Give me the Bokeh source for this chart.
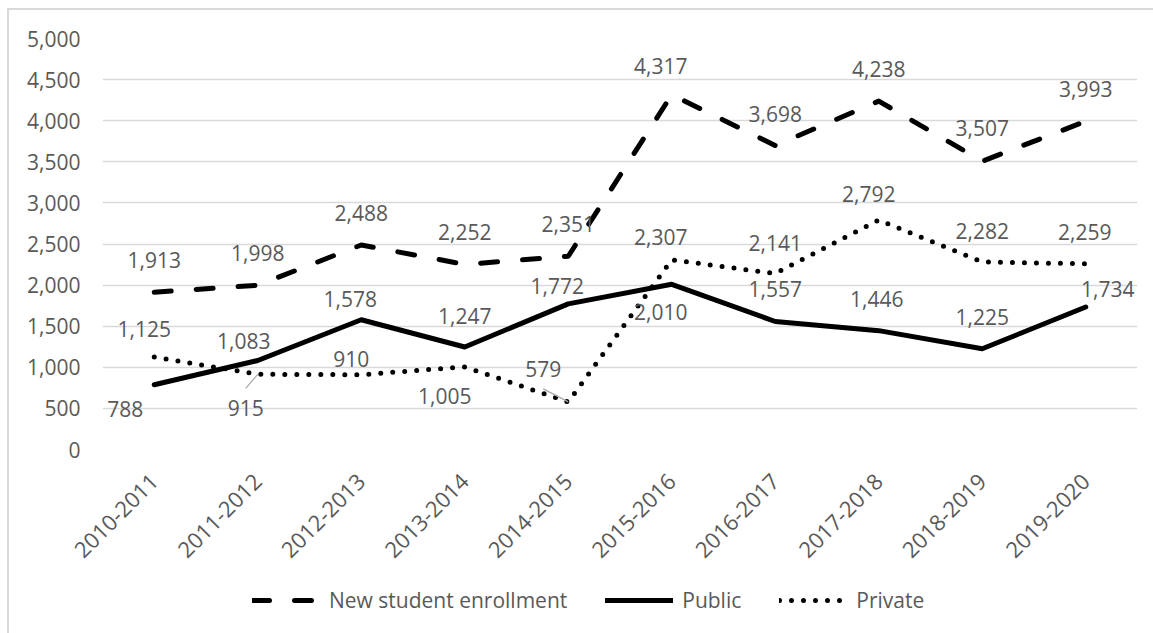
import math
from bokeh.plotting import figure
from bokeh.layouts import column
from bokeh.models import (Range1d, FixedTicker, NumeralTickFormatter, Legend, LegendItem,
                          ColumnDataSource)
from bokeh.core.properties import value
from bokeh.embed import file_html
from bokeh.resources import INLINE

# ---------------- data ----------------
years = ["2010-2011", "2011-2012", "2012-2013", "2013-2014", "2014-2015",
         "2015-2016", "2016-2017", "2017-2018", "2018-2019", "2019-2020"]
new_enrollment = [1913, 1998, 2488, 2252, 2351, 4317, 3698, 4238, 3507, 3993]
public = [788, 1083, 1578, 1247, 1772, 2010, 1557, 1446, 1225, 1734]
private = [1125, 915, 910, 1005, 579, 2307, 2141, 2792, 2282, 2259]
y_ticks = [0, 500, 1000, 1500, 2000, 2500, 3000, 3500, 4000, 4500, 5000]
series_names = ["New student enrollment", "Public", "Private"]

# label placement (screen px offsets from the point, +y is down)
new_dx = [0, 0, 0, 0, 0, -11, 0, 0, 0, 0]
new_dy = [-32, -32, -32, -32, -32, -29, -32, -32, -33, -32]
pub_dx = [-29, -14, -11, 0, -11, -11, 0, -2, 0, 22]
pub_dy = [24, -19, -21, -31, -18, 28, -33, -32, -32, -18]
pri_dx = [-10, -12, -10, -20, -25, -11, 0, -10, 0, -1]
pri_dy = [-28, 34, -16, 29, -33, -23, -31, -26, -31, -32]
pri_leaders = [1, 4]

FONT = "Open Sans"
TXT = "#595959"
GRID = "#d9d9d9"

W = 1144
H1, H2 = 570, 53
FRAME_W, FRAME_H = 1035, 411
LEFT, TOP = 93, 28

STYLES = [dict(line_dash="17 25"), dict(line_dash="solid"), dict(line_dash="0 12")]

p = figure(width=W, height=H1, output_backend="svg", toolbar_location=None,
           x_range=Range1d(-0.5, len(years) - 0.5), y_range=Range1d(0, 5000),
           min_border_left=LEFT, min_border_top=TOP,
           min_border_right=W - LEFT - FRAME_W, min_border_bottom=H1 - TOP - FRAME_H)
p.outline_line_color = None
p.background_fill_color = "white"
p.border_fill_color = "white"

xs = list(range(len(years)))

# axes
p.xaxis.ticker = FixedTicker(ticks=xs)
p.xaxis.major_label_overrides = {i: y for i, y in enumerate(years)}
p.xaxis.major_label_orientation = math.pi / 4
p.yaxis.ticker = FixedTicker(ticks=y_ticks)
p.yaxis.formatter = NumeralTickFormatter(format="0,0")
for ax in (p.xaxis, p.yaxis):
    ax.axis_line_color = None
    ax.major_tick_line_color = None
    ax.minor_tick_line_color = None
    ax.major_tick_in = 0
    ax.major_tick_out = 0
    ax.major_label_text_font = FONT
    ax.major_label_text_font_size = "21px"
    ax.major_label_text_color = TXT
p.xaxis.major_label_text_font_size = "22px"
p.yaxis.major_label_standoff = 22
p.xaxis.major_label_standoff = 28
p.xgrid.grid_line_color = None
p.ygrid.ticker = FixedTicker(ticks=y_ticks)
p.ygrid.grid_line_color = GRID
p.ygrid.grid_line_width = 1.5

# lines
for vals, st in zip([new_enrollment, public, private], STYLES):
    p.line(xs, vals, line_color="black", line_width=5, line_cap="round",
           line_join="round", **st)

# leader lines
px_per_x = FRAME_W / len(years)
px_per_y = FRAME_H / 5000
lx0, ly0, lx1, ly1 = [], [], [], []
for i in pri_leaders:
    dx, dy = pri_dx[i], pri_dy[i]
    ey = dy - math.copysign(20, dy)
    lx0.append(xs[i]); ly0.append(private[i])
    lx1.append(xs[i] + dx / px_per_x); ly1.append(private[i] - ey / px_per_y)
p.segment(lx0, ly0, lx1, ly1, line_color="#a6a6a6", line_width=1.2)

# data labels
def add_labels(vals, dxs, dys):
    src = ColumnDataSource(dict(x=xs, y=vals, t=[f"{v:,}" for v in vals], dx=dxs, dy=dys))
    p.text(x="x", y="y", text="t", x_offset="dx", y_offset="dy", source=src,
           text_font=value(FONT), text_font_size="21px", text_color=TXT,
           text_align="center", text_baseline="middle")

add_labels(new_enrollment, new_dx, new_dy)
add_labels(public, pub_dx, pub_dy)
add_labels(private, pri_dx, pri_dy)

# legend strip (same line styles, drawn by Bokeh's Legend)
pl = figure(width=W, height=H2, output_backend="svg", toolbar_location=None,
            x_range=Range1d(0, 1), y_range=Range1d(0, 1),
            min_border=0, x_axis_location=None, y_axis_location=None)
pl.outline_line_color = None
pl.grid.grid_line_color = None
pl.border_fill_color = "white"
items = []
for name, st in zip(series_names, STYLES):
    # proxy renderer lying outside the visible range, only used for the legend swatch
    r = pl.line([-2, -1], [-2, -2], line_color="black", line_width=5, line_cap="round",
                line_join="round", **st)
    items.append(LegendItem(label=name, renderers=[r]))
legend = Legend(items=items, orientation="horizontal", location=(150, 19),
                glyph_width=68, glyph_height=20, label_standoff=9, spacing=38,
                padding=0, margin=0, border_line_color=None, background_fill_alpha=0,
                label_text_font=FONT, label_text_font_size="21px", label_text_color=TXT)
pl.add_layout(legend)

layout = column(p, pl, spacing=0)
layout.styles = {"margin-left": "7px", "margin-top": "8px",
                 "border-left": "2px solid #d9d9d9", "border-top": "2px solid #d9d9d9"}

open("out.html", "w").write(file_html(layout, INLINE))
